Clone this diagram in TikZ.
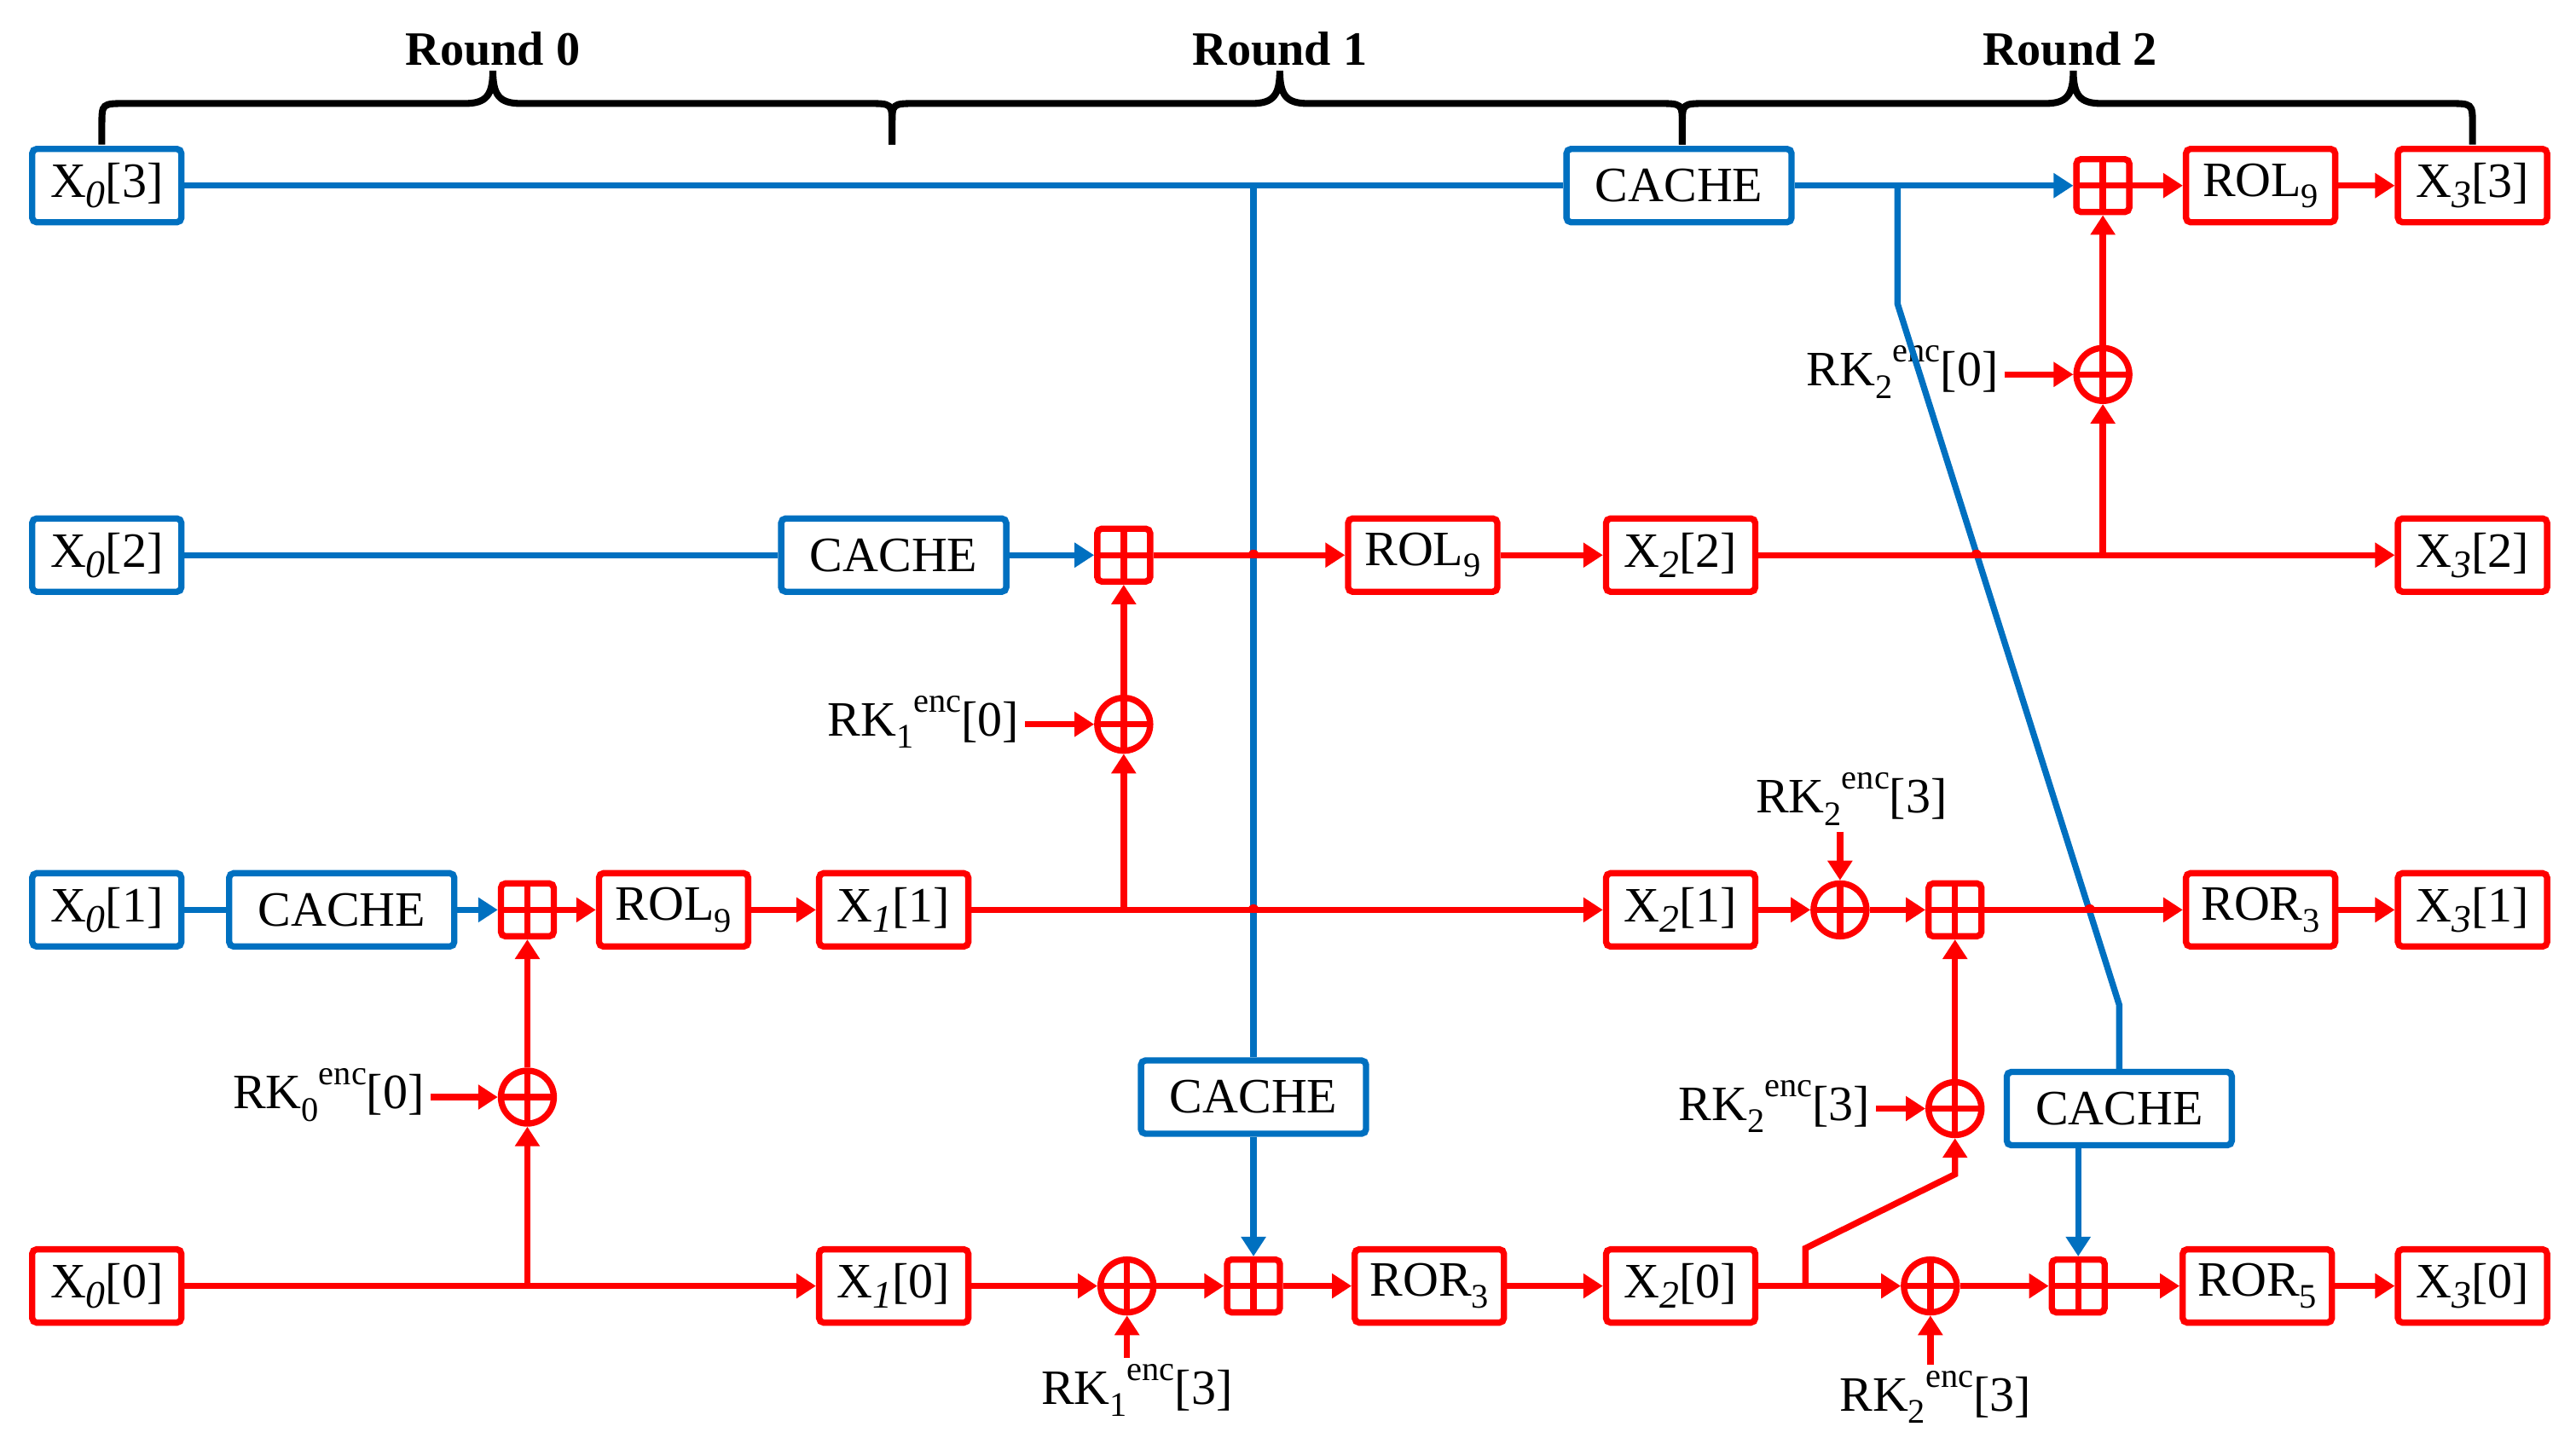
\documentclass[tikz,border=0pt]{standalone}
\usepackage{fontspec}
\setmainfont{Liberation Serif}
\usetikzlibrary{arrows.meta,calc}
\definecolor{cblue}{RGB}{0,112,192}
\definecolor{cred}{RGB}{255,0,0}
\newcommand{\Xs}[2]{X\raisebox{-0.45ex}{\fontsize{13}{13}\selectfont\itshape #1}[#2]}
\newcommand{\Rs}[2]{#1\raisebox{-0.5ex}{\fontsize{11.5}{11.5}\selectfont #2}}
\newcommand{\RKe}[2]{RK\raisebox{-0.55ex}{\fontsize{11.5}{11.5}\selectfont #1}\raisebox{1.05ex}{\fontsize{11.5}{11.5}\selectfont enc}[#2]}
\begin{document}
\begin{tikzpicture}[x=0.01927cm,y=-0.01927cm,line width=2.1pt,
  >={Triangle[length=0.23cm,width=0.28cm]},
  font=\fontsize{16.5}{19}\selectfont,
  blk/.style={draw, rounded corners=1.5pt, minimum width=1.75cm, minimum height=0.86cm, inner sep=0pt, fill=white},
  bbox/.style={blk, draw=cblue},
  rbox/.style={blk, draw=cred},
  cbox/.style={bbox, minimum width=2.64cm},
  crossx/.style={path picture={\draw[cred,line width=2.1pt] (path picture bounding box.north) -- (path picture bounding box.south) (path picture bounding box.west) -- (path picture bounding box.east);}},
  addbox/.style={draw=cred, rounded corners=1.5pt, minimum size=0.62cm, inner sep=0pt, fill=white, crossx},
  xorc/.style={circle, draw=cred, minimum size=0.62cm, inner sep=0pt, fill=white, crossx},
  bl/.style={draw=cblue},
  rl/.style={draw=cred},
  lbl/.style={inner sep=1pt},
  brc/.style={draw=black, line width=2.3pt},
  hop/.style={fill=cred}
]
\useasboundingbox (0,0) rectangle (1568,879);

% ---------- braces ----------
\foreach \xa/\xm/\xb in {62/300/543, 543/779/1024, 1024/1262/1505}{
  \draw[brc] (\xa,88) -- (\xa,76) .. controls (\xa,63) and (\xa,63) .. ({\xa+15},63)
    -- ({\xm-17},63) .. controls ({\xm-4},63) and (\xm,58) .. (\xm,43)
    .. controls (\xm,58) and ({\xm+4},63) .. ({\xm+17},63)
    -- ({\xb-15},63) .. controls (\xb,63) and (\xb,63) .. (\xb,76) -- (\xb,88);
}
\node[font=\fontsize{16}{19}\selectfont\bfseries] (r0) at (300,30) {Round 0};
\node[font=\fontsize{16}{19}\selectfont\bfseries] (r1) at (779,30) {Round 1};
\node[font=\fontsize{16}{19}\selectfont\bfseries] (r2) at (1260,30) {Round 2};

% ---------- nodes ----------
% inputs
\node[bbox] (x03) at (65,113) {\Xs{0}{3}};
\node[bbox] (x02) at (65,338) {\Xs{0}{2}};
\node[bbox] (x01) at (65,554) {\Xs{0}{1}};
\node[rbox] (x00) at (65,783) {\Xs{0}{0}};
% round 0
\node[cbox] (c01) at (208,554) {CACHE};
\node[addbox] (a01) at (321,554) {};
\node[xorc] (o00) at (321,668) {};
\node[lbl, anchor=base east] (rk00) at (262,675) {\RKe{0}{0}};
\node[rbox] (rol01) at (410,554) {\Rs{ROL}{9}};
\node[rbox] (x11) at (544,554) {\Xs{1}{1}};
\node[rbox] (x10) at (544,783) {\Xs{1}{0}};
% round 1
\node[cbox] (c12) at (544,338) {CACHE};
\node[addbox] (a12) at (684,338) {};
\node[xorc] (o11) at (684,441) {};
\node[lbl, anchor=base east] (rk11) at (624,448) {\RKe{1}{0}};
\node[rbox] (rol12) at (866,338) {\Rs{ROL}{9}};
\node[rbox] (x22) at (1023,338) {\Xs{2}{2}};
\node[xorc] (o10) at (686,783) {};
\node[lbl, anchor=base] (rk10) at (692,855) {\RKe{1}{3}};
\node[addbox] (a10) at (763,783) {};
\node[cbox] (c10) at (763,668) {CACHE};
\node[rbox] (ror10) at (870,783) {\Rs{ROR}{3}};
\node[rbox] (x20) at (1023,783) {\Xs{2}{0}};
\node[rbox] (x21) at (1023,554) {\Xs{2}{1}};
% round 2
\node[cbox] (c23) at (1022,113) {CACHE};
\node[addbox] (a23) at (1280,113) {};
\node[xorc] (o22) at (1280,228) {};
\node[lbl, anchor=base east] (rk22) at (1220,235) {\RKe{2}{0}};
\node[rbox] (rol23) at (1376,113) {\Rs{ROL}{9}};
\node[rbox] (x33) at (1505,113) {\Xs{3}{3}};
\node[rbox] (x32) at (1505,338) {\Xs{3}{2}};
\node[xorc] (o21) at (1120,554) {};
\node[lbl, anchor=base] (rk21) at (1127,495) {\RKe{2}{3}};
\node[addbox] (a21) at (1190,554) {};
\node[rbox] (ror21) at (1376,554) {\Rs{ROR}{3}};
\node[rbox] (x31) at (1505,554) {\Xs{3}{1}};
\node[xorc] (o20b) at (1190,675) {};
\node[lbl, anchor=base east] (rk20b) at (1142,682) {\RKe{2}{3}};
\node[xorc] (o20) at (1175,783) {};
\node[lbl, anchor=base] (rk20) at (1178,859) {\RKe{2}{3}};
\node[addbox] (a20) at (1265,783) {};
\node[cbox] (c20) at (1290,675) {CACHE};
\node[rbox] (ror20) at (1374,783) {\Rs{ROR}{5}};
\node[rbox] (x30) at (1505,783) {\Xs{3}{0}};

% ---------- junction coordinates ----------
\coordinate (j1) at (c10 |- x03);
\coordinate (j2) at (1155,113);
\coordinate (k1) at (1155,185);
\coordinate (k2) at (c20.north |- 0,612);
\coordinate (b00) at (o00 |- x00);
\coordinate (b11) at (o11 |- x11);
\coordinate (b22) at (o22 |- x22);
\coordinate (b20) at (1099,783);
\coordinate (k3) at (1099,760);
\coordinate (k4) at (o20b |- 0,715);
\coordinate (h1) at (c10 |- x22);
\coordinate (h2) at (c10 |- x11);
\coordinate (h3) at (1203,338);
\coordinate (h4) at (1272,554);

% ---------- blue connectors ----------
\draw[bl] (x03) -- (c23);
\draw[bl] (j1) -- (c10.north);
\draw[bl,->] (c23) -- (a23);
\draw[bl] (j2) -- (k1) -- (k2) -- (c20.north);
\draw[bl,->] (c10) -- (a10);
\draw[bl,->] (c20.south -| a20) -- (a20.north);
\draw[bl] (x02) -- (c12);
\draw[bl,->] (c12) -- (a12);
\draw[bl] (x01) -- (c01);
\draw[bl,->] (c01) -- (a01);

% ---------- red connectors ----------
% round 0
\draw[rl,->] (x00) -- (x10);
\draw[rl,->] (b00) -- (o00);
\draw[rl,->] (o00) -- (a01);
\draw[rl,->] (rk00.east |- o00) -- (o00.west);
\draw[rl,->] (a01) -- (rol01);
\draw[rl,->] (rol01) -- (x11);
% round 1
\draw[rl,->] (x11) -- (x21);
\draw[rl,->] (b11) -- (o11);
\draw[rl,->] (o11) -- (a12);
\draw[rl,->] (rk11.east |- o11) -- (o11.west);
\draw[rl,->] (a12) -- (rol12);
\draw[rl,->] (rol12) -- (x22);
\draw[rl,->] (x10) -- (o10);
\draw[rl,->] (o10) -- (a10);
\draw[rl,->] (a10) -- (ror10);
\draw[rl,->] (ror10) -- (x20);
\draw[rl,->] (rk10.north -| o10) -- (o10.south);
% round 2
\draw[rl,->] (x22) -- (x32);
\draw[rl,->] (b22) -- (o22);
\draw[rl,->] (o22) -- (a23);
\draw[rl,->] (rk22.east |- o22) -- (o22.west);
\draw[rl,->] (a23) -- (rol23);
\draw[rl,->] (rol23) -- (x33);
\draw[rl,->] (x21) -- (o21);
\draw[rl,->] (o21) -- (a21);
\draw[rl,->] (a21) -- (ror21);
\draw[rl,->] (ror21) -- (x31);
\draw[rl,->] (rk21.south -| o21) -- (o21.north);
\draw[rl,->] (x20) -- (o20);
\draw[rl,->] (o20) -- (a20);
\draw[rl,->] (a20) -- (ror20);
\draw[rl,->] (ror20) -- (x30);
\draw[rl,->] (rk20.north -| o20) -- (o20.south);
\draw[rl,->] (b20) -- (k3) -- (k4) -- (o20b.south);
\draw[rl,->] (o20b) -- (a21);
\draw[rl,->] (rk20b.east |- o20b) -- (o20b.west);

% ---------- crossing hops ----------
\foreach \h in {h1,h2,h3,h4}{
  \fill[hop] (\h) ++(-0.065cm,0) arc[start angle=180,end angle=0,radius=0.065cm] -- cycle;
}
\end{tikzpicture}
\end{document}
